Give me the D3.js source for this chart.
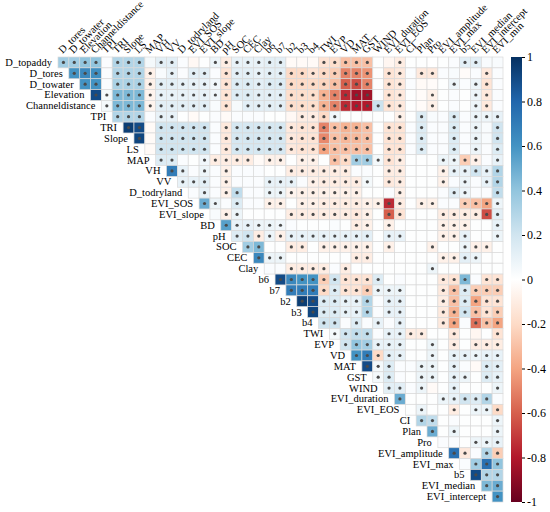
<!DOCTYPE html>
<html>
<head>
<meta charset="utf-8">
<script src="https://cdn.jsdelivr.net/npm/d3@7"></script>
<style>
  body { margin: 0; background: #fff; }
  text { font-family: "Liberation Serif", "Times New Roman", serif; fill: #000; }
</style>
</head>
<body>
<svg id="corrplot"></svg>
<script>
var varNames = ["D_topaddy", "D_tores", "D_towater", "Elevation", "Channeldistance", "TPI", "TRI", "Slope", "LS", "MAP",
  "VH", "VV", "D_todryland", "EVI_SOS", "EVI_slope", "BD", "pH", "SOC", "CEC", "Clay",
  "b6", "b7", "b2", "b3", "b4", "TWI", "EVP", "VD", "MAT", "GST",
  "WIND", "EVI_duration", "EVI_EOS", "CI", "Plan", "Pro", "EVI_amplitude", "EVI_max", "b5", "EVI_median",
  "EVI_intercept", "EVI_min"]

// upper triangle, row i holds correlations with variables i+1 .. 41
var corrRows = [
  [0.35,0.35,0.4,0.4,0.02,0.3,0.3,0.3,0.05,0.12,0.12,0.02,-0.04,0.01, 0.08,-0.1,0.1,0.1,0.1,0.12,0.12,-0.03,-0.03,-0.03,-0.15,-0.18,-0.3,-0.3, -0.3,0.01,-0.05,-0.1,0.01,0.01,0,0.01,0.02,0.12,0.12,0.03,0.03],
  [0.6,0.65,0.62,0.02,0.3,0.3,0.3,-0.08,0.03,0.1,0.02,0.12,0.12, 0.02,-0.15,0.12,0.12,0.1,0.12,0.12,-0.2,-0.2,-0.15,-0.2,-0.25,-0.5,-0.5, -0.45,0.01,-0.15,-0.12,0.02,-0.12,-0.12,0.02,0.03,-0.02,0.02,-0.12,0.02],
  [0.6,0.6,0.02,0.32,0.32,0.32,-0.08,0.12,0.12,0.1,0.1,0.1, 0.06,-0.15,0.15,0.15,0.12,0.15,0.15,-0.2,-0.2,-0.2,-0.22,-0.3,-0.6,-0.65, -0.5,0.01,-0.15,-0.12,0.02,-0.03,-0.02,0.01,0.08,0.02,0.08,-0.15,0.02],
  [0.9,0.05,0.45,0.45,0.45,-0.06,0.1,0.1,0.1,0.1,0.1, 0.07,-0.15,0.15,0.15,0.12,0.12,0.12,-0.18,-0.18,-0.18,-0.35,-0.5,-0.75,-0.85, -0.85,0.02,-0.15,-0.12,0.01,-0.02,-0.08,0.01,0.02,0.01,0.08,-0.12,0.02],
  [0.05,0.45,0.45,0.45,-0.06,0.12,0.12,0.12,0.12,0.12, 0.03,-0.15,0.04,0.12,0.12,0.12,0.12,-0.18,-0.18,-0.18,-0.35,-0.5,-0.75,-0.8, -0.8,0.22,-0.15,-0.12,0.01,-0.02,-0.08,0.01,0.02,0.01,0.08,-0.12,0.02],
  [0.3,0.3,0.3,0.02,0.1,0.1,0.01,-0.03,0.01, 0.02,-0.03,0.02,0.02,0.02,0.01,0.01,-0.04,-0.1,-0.1,-0.2,0.06,0.01,0.01, 0.01,0.01,0.01,-0.08,0.01,0.15,0.03,0.02,0.15,0.02,0.08,0.08,0.1],
  [0.95,0.9,-0.03,0.2,0.2,0.2,0.2,0.2, 0.02,-0.12,0.18,0.18,0.18,0.18,0.18,-0.12,-0.15,-0.15,-0.5,-0.3,-0.35,-0.35, -0.3,0.01,-0.15,-0.15,0.02,0.15,0.02,0.02,0.15,0.02,0.08,0.03,0.2],
  [0.92,-0.03,0.2,0.2,0.2,0.2,0.2, 0.02,-0.12,0.18,0.18,0.18,0.18,0.18,-0.12,-0.15,-0.15,-0.48,-0.3,-0.33,-0.33, -0.3,0.01,-0.15,-0.15,0.02,0.15,0.02,0.02,0.15,0.02,0.08,0.03,0.2],
  [-0.03,0.2,0.2,0.2,0.2,0.2, 0.02,-0.12,0.18,0.18,0.18,0.18,0.18,-0.12,-0.15,-0.15,-0.4,-0.3,-0.3,-0.3, -0.3,0.01,-0.15,-0.15,0.02,0.15,0.02,0.02,0.15,0.02,0.08,0.02,0.15],
  [0.15,0.15,0.02,0.01,0.06, -0.1,-0.1,-0.1,-0.1,-0.03,-0.08,-0.08,0.01,-0.08,-0.08,0.01,-0.3,-0.2,0.35, 0.35,0.05,-0.15,-0.1,0.01,0.01,0.01,0.08,0.08,-0.25,-0.08,0.02,0.1],
  [0.7,0.1,0.02,0.08, 0.02,-0.08,0.02,0.02,0.02,0.01,0.01,-0.1,-0.1,-0.1,-0.1,-0.1,-0.1,0.02, 0.02,0.01,-0.1,-0.1,0.01,0.01,0.01,-0.08,0.1,0.1,0.2,0.1,0.3],
  [0.1,0.1,0.12, 0.02,-0.08,0.02,0.02,0.02,0.1,0.1,0.1,0.02,-0.08,-0.1,-0.1,-0.1,-0.1, 0.05,0.01,-0.12,-0.1,0.01,0.01,0.01,-0.08,0.02,0.08,0.02,0.1,0.3],
  [0.02,0.1, 0.02,-0.08,0.25,0.02,0.02,0.08,0.08,-0.06,-0.08,-0.08,-0.08,-0.08,-0.08,-0.08, 0.01,0.01,0.02,-0.08,0.01,0.01,0.01,0.02,0.12,0.08,0.02,0.02,0.25],
  [0.5, 0.08,0.02,0.15,0.02,0.02,-0.08,-0.08,0.01,-0.08,-0.08,-0.1,-0.1,-0.1,-0.1, -0.08,-0.08,-0.75,-0.1,0.01,-0.08,-0.08,0.02,0.02,-0.25,-0.3,-0.4,0.08],
  [0.03,-0.08,0.08,0.01,0.01,0.01,0.01,-0.1,-0.1,-0.1,-0.1,-0.1,-0.1,-0.12, -0.08,0.01,-0.6,-0.15,0.01,0.01,0.01,-0.1,-0.1,-0.1,-0.1,-0.65,0.12],
  [0.55,0.1,0.1,0.08,0.08,0.06,0.02,0.01,0.01,0.01,0.02,0.01,-0.1, -0.08,0.01,-0.08,0.01,0.01,0.01,0.01,-0.08,-0.08,-0.08,0.01,0.01,0.1],
  [0.15,0.2,-0.1,0.08,-0.08,0.1,0.1,0.1,0.1,0.1,0.1,0.1, 0.12,0.01,0.1,0.1,0.01,0.01,0.01,-0.08,-0.08,0.1,0.01,0.01,0.08],
  [0.35,0.45,0.01,0.01,-0.1,-0.1,0.01,-0.08,-0.08,-0.08,-0.08, -0.08,0.01,-0.08,0.01,0.01,0.01,-0.08,0.01,0.01,0.08,-0.08,-0.08,0.01],
  [0.65,0.08,0.08,0.01,0.01,0.01,0.01,0.01,0.01,-0.1, -0.1,0.01,0.01,0.01,0.01,0.01,0.01,-0.08,-0.08,0.12,0.08,0.01,0.01],
  [0.02,0.02,-0.1,-0.1,-0.1,-0.1,0.02,-0.1,0.01, 0.01,0.01,0.01,0.01,0.01,0.01,0.08,0.01,0.01,0.01,0.01,0.01,0.01],
  [0.9,0.65,0.6,0.6,-0.25,0.2,-0.15,-0.15, -0.15,0.15,0.01,0.02,0.01,0.01,0.01,-0.12,-0.15,0.45,0.02,-0.15,-0.15],
  [0.7,0.7,0.7,-0.2,0.15,-0.15,-0.15, -0.25,0.08,0.08,0.08,0.01,0.01,0.01,-0.12,-0.3,0.15,-0.25,-0.25,-0.25],
  [0.95,0.9,0.15,0.15,0.1,0.1, 0.3,0.02,0.1,0.1,0.01,0.01,0.01,-0.1,-0.3,0.15,-0.4,-0.15,-0.15],
  [0.92,0.15,0.15,0.1,0.1, 0.3,0.02,0.1,0.1,0.01,0.01,0.01,-0.12,-0.35,0.2,-0.3,-0.15,-0.25],
  [0.2,0.2,0.02,0.15, 0.02,0.1,0.02,0.1,0.01,0.01,0.01,-0.12,-0.4,0.02,-0.55,-0.3,-0.4],
  [0.05,0.2,0.25, 0.25,0.02,0.1,0.1,-0.1,-0.1,0.01,0.01,-0.12,0.01,-0.05,0.01,-0.15],
  [0.2,0.4, 0.35,0.1,0.1,0.1,0.01,0.01,0.08,0.01,-0.1,0.01,-0.1,-0.1,-0.1],
  [0.6, 0.7,-0.2,0.12,0.1,0.01,0.01,0.08,0.01,0.1,0.1,0.08,0.1,0.1],
  [0.9,0.05,0.15,0.02,0.02,0.08,0.08,0.01,0.1,0.02,-0.03,0.15,0.12],
  [0.05,0.15,0.02,0.01,0.08,0.08,0.01,0.1,0.08,0.01,0.15,0.1],
  [0.12,0.12,0.02,0.08,-0.03,0.01,0.1,0.01,0.01,0.01,0.08],
  [0.5,0.01,0.01,0.01,0.08,0.1,0.2,0.15,0.3,0.02],
  [0.01,0.08,0.01,0.01,-0.1,0.01,0.08,0.08,-0.2],
  [0.3,0.25,0.01,0.02,0.01,0.01,0.01,0.08],
  [0.5,0.01,0.08,0.01,0.01,0.01,0.08],
  [0.02,0.02,0.01,0.08,0.08,0.1],
  [0.75,-0.12,0.02,0.3,-0.25],
  [0.02,0.35,0.75,0.4],
  [0.9,0.3,0.3],
  [0.45,0.5],
  [0.6]
]

// significance flags, same layout as corrRows ("1" = dot drawn)
var sigRows = [
  "11110111011000" + "11111110001111" + "1001000001100",
  "1110111101011" + "01111111111111" + "1011011000010",
  "110111111111" + "11111111111111" + "1011000010110",
  "11111111111" + "11111111111111" + "1011001000110",
  "1111111111" + "01011111111111" + "1111001000110",
  "111011000" + "00000000111100" + "0001010010111",
  "11011111" + "01111111111111" + "1011010010101",
  "1011111" + "01111111111111" + "1011010010101",
  "011111" + "01111111111111" + "1011010010101",
  "11001" + "11110110110111" + "1111000111101",
  "1101" + "01000001111110" + "0011000111111",
  "111" + "01000111011111" + "1011000101011",
  "01" + "01100111111111" + "0001000011001",
  "1" + "10100110111111" + "1111011001111",
  "01100001111111" + "1011000111111",
  "1111110000001" + "1010000111001",
  "111111111111" + "1011000111001",
  "11001101111" + "1010001001110",
  "1110000001" + "1000000111100",
  "001111010" + "0000001000000",
  "11111111" + "1100000111011",
  "1111111" + "1111000111111",
  "111111" + "1011000111111",
  "11111" + "1011000111111",
  "1101" + "0101000110111",
  "111" + "1011110010001",
  "11" + "1111001010111",
  "1" + "1111001011111",
  "1110011010011",
  "110011011011",
  "11010010001",
  "1000111110",
  "010010111",
  "11000001",
  "1010001",
  "000111",
  "11011",
  "0111",
  "111",
  "11",
  "1"
]

var legendTicks = [-1, -0.8, -0.6, -0.4, -0.2, 0, 0.2, 0.4, 0.6, 0.8, 1]
var rdBu = ["#67001F", "#B2182B", "#D6604D", "#F4A582", "#FDDBC7", "#FFFFFF",
            "#D1E5F0", "#92C5DE", "#4393C3", "#2166AC", "#053061"]

var dimensions = {
  width: 550,
  height: 512,
  grid: { left: 58, top: 57, size: 445 },
  bar: { left: 511, width: 11 }
}

var svg = d3.select("#corrplot")
  .attr("width", dimensions.width)
  .attr("height", dimensions.height)

var rowVars = varNames.slice(0, varNames.length - 1)
var colVars = varNames.slice(1)

var xScale = d3.scaleBand()
  .domain(colVars)
  .range([dimensions.grid.left, dimensions.grid.left + dimensions.grid.size])

var yScale = d3.scaleBand()
  .domain(rowVars)
  .range([dimensions.grid.top, dimensions.grid.top + dimensions.grid.size])

var colorScale = d3.scaleLinear()
  .domain(legendTicks)
  .range(rdBu)

// flatten the triangle into cells
var cells = []
corrRows.forEach(function (row, i) {
  if (row.length !== colVars.length - i) console.warn("row length", i, row.length)
  row.forEach(function (v, k) {
    cells.push({ row: rowVars[i], col: colVars[i + k], value: v, sig: sigRows[i][k] === "1" })
  })
})

var cellGroup = svg.append("g")
cellGroup.selectAll("rect")
  .data(cells)
  .enter()
  .append("rect")
  .attr("x", d => xScale(d.col))
  .attr("y", d => yScale(d.row))
  .attr("width", xScale.bandwidth())
  .attr("height", yScale.bandwidth())
  .attr("fill", d => colorScale(d.value))
  .attr("stroke", "#d9d9d9")
  .attr("stroke-width", 0.7)

cellGroup.selectAll("circle")
  .data(cells.filter(d => d.sig))
  .enter()
  .append("circle")
  .attr("cx", d => xScale(d.col) + xScale.bandwidth() / 2)
  .attr("cy", d => yScale(d.row) + yScale.bandwidth() / 2)
  .attr("r", 1.6)
  .attr("fill", "#4a4a4a")

// row labels, right aligned next to the first cell of each row
svg.append("g")
  .selectAll("text")
  .data(rowVars)
  .enter()
  .append("text")
  .attr("x", (d, i) => xScale(colVars[i]) - 6)
  .attr("y", d => yScale(d) + yScale.bandwidth() / 2)
  .attr("text-anchor", "end")
  .attr("dominant-baseline", "central")
  .style("font-size", "10.5px")
  .text(d => d)

// column labels, rotated
svg.append("g")
  .selectAll("text")
  .data(colVars)
  .enter()
  .append("text")
  .attr("transform", d => `translate(${xScale(d) + xScale.bandwidth() / 2 - 1},${dimensions.grid.top - 3}) rotate(-45)`)
  .style("font-size", "10.5px")
  .text(d => d)

// colour bar
var barScale = d3.scaleLinear()
  .domain([-1, 1])
  .range([dimensions.grid.top + dimensions.grid.size, dimensions.grid.top])

var defs = svg.append("defs")
var grad = defs.append("linearGradient")
  .attr("id", "corrGrad")
  .attr("x1", 0).attr("y1", 1).attr("x2", 0).attr("y2", 0)
grad.selectAll("stop")
  .data(legendTicks)
  .enter()
  .append("stop")
  .attr("offset", d => (d + 1) / 2)
  .attr("stop-color", d => colorScale(d))

svg.append("rect")
  .attr("x", dimensions.bar.left)
  .attr("y", barScale(1))
  .attr("width", dimensions.bar.width)
  .attr("height", barScale(-1) - barScale(1))
  .attr("fill", "url(#corrGrad)")

var barAxis = d3.axisRight(barScale)
  .tickValues(legendTicks)
  .tickSize(3)
  .tickPadding(2)
  .tickFormat(d => String(+d.toFixed(1)))

svg.append("g")
  .call(barAxis)
  .style("transform", `translateX(${dimensions.bar.left + dimensions.bar.width}px)`)
  .call(g => g.select(".domain").remove())
  .call(g => g.selectAll("text")
    .style("font-family", "'Liberation Serif', serif")
    .style("font-size", "12px")
    .attr("fill", "#000"))
</script>
</body>
</html>
